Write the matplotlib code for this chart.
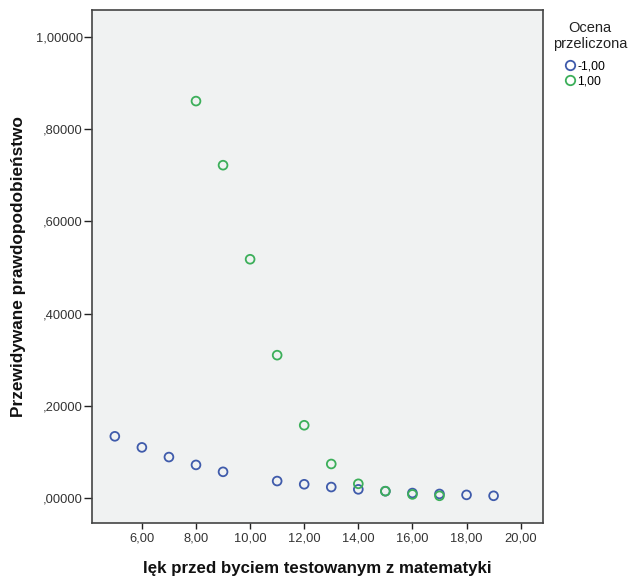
import matplotlib
matplotlib.use("Agg")
import matplotlib.pyplot as plt
from matplotlib.lines import Line2D

# dane
lek_neg = [5, 6, 7, 8, 9, 11, 12, 13, 14, 15, 16, 17, 18, 19]
prob_neg = [0.134, 0.110, 0.089, 0.072, 0.057, 0.037, 0.030, 0.024, 0.019, 0.015, 0.011, 0.009, 0.007, 0.005]
lek_pos = [8, 9, 10, 11, 12, 13, 14, 15, 16, 17]
prob_pos = [0.861, 0.722, 0.518, 0.310, 0.158, 0.074, 0.031, 0.015, 0.008, 0.005]

x_ticks = [6, 8, 10, 12, 14, 16, 18, 20]
y_ticks = [0.0, 0.2, 0.4, 0.6, 0.8, 1.0]
legend_labels = ["-1,00", "1,00"]

blue = "#3f5bab"
green = "#3caf5a"

plt.rcParams['font.family'] = ['Liberation Sans', 'DejaVu Sans']

fig = plt.figure(figsize=(6.29, 5.76), dpi=100)
ax = fig.add_axes([0.146, 0.092, 0.717, 0.891])
ax.set_facecolor("#f0f2f2")

ax.scatter(lek_neg, prob_neg, s=40, facecolors='none', edgecolors=blue, linewidths=1.3)
ax.scatter(lek_pos, prob_pos, s=40, facecolors='none', edgecolors=green, linewidths=1.3)

ax.set_xlim(4.15, 20.82)
ax.set_ylim(-0.054, 1.059)
ax.set_xticks(x_ticks)
ax.set_xticklabels([f"{v:.2f}".replace(".", ",") for v in x_ticks], fontsize=9.3, color='#333333')
ax.set_yticks(y_ticks)
ax.set_yticklabels([("1,00000" if v == 1 else "," + f"{v:.5f}".split(".")[1]) for v in y_ticks],
                   fontsize=9.3, color='#333333')
ax.tick_params(axis='x', direction='out', length=4.5, width=1, pad=2.5, color='#222222')
ax.tick_params(axis='y', direction='out', length=5.5, width=1, pad=1, color='#222222')

for sp in ax.spines.values():
    sp.set_color('#444444')
    sp.set_linewidth(1.2)

fig.text(0.504, 1 - 568 / 576, "lęk przed byciem testowanym z matematyki",
         ha='center', va='center', fontsize=12.2, fontweight='bold', color='#111111')
fig.text(19 / 629, 1 - 267 / 576, "Przewidywane prawdopodobieństwo", rotation=90,
         ha='center', va='center', fontsize=12.4, fontweight='bold', color='#111111')

# legenda
fig.text(590 / 629, 1 - 36 / 576, "Ocena\nprzeliczona", ha='center', va='center',
         fontsize=10.5, linespacing=1.27, color='#222222')
handles = [Line2D([], [], marker='o', linestyle='none', markerfacecolor='none',
                  markeredgecolor=c, markersize=6.8, markeredgewidth=1.3) for c in (blue, green)]
fig.legend(handles, legend_labels, loc='upper left', bbox_to_anchor=(564 / 629, 1 - 60.5 / 576),
           frameon=False, fontsize=8.8, handletextpad=0.1, handlelength=1.0,
           labelspacing=0.25, borderpad=0, borderaxespad=0)

fig.savefig("out.png", dpi=100)
